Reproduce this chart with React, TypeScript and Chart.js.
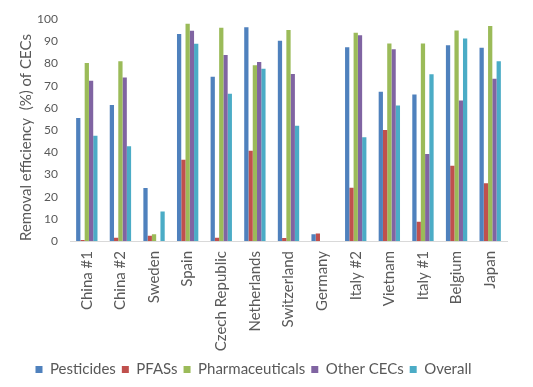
import React, { useEffect, useRef } from "react";
import { Chart, registerables } from "chart.js";

Chart.register(...registerables);

const categories = [
  "China #1", "China #2", "Sweden", "Spain", "Czech Republic", "Netherlands",
  "Switzerland", "Germany", "Italy #2", "Vietnam", "Italy #1", "Belgium", "Japan",
];
const pesticides = [55.5, 61.3, 23.9, 93.3, 74, 96.4, 90.3, 3, 87.3, 67.3, 66, 88.3, 87.1];
const pfass = [0.5, 1.5, 2.4, 36.6, 1.5, 40.7, 1.4, 3.4, 24, 50.1, 8.7, 33.9, 26];
const pharmaceuticals = [80.3, 81, 3, 98, 96.1, 79.2, 95.1, 0, 93.9, 89.1, 89.1, 94.9, 96.9];
const otherCecs = [72.2, 73.7, 0, 94.8, 83.9, 80.7, 75.3, 0, 92.8, 86.4, 39.2, 63.4, 73.2];
const overall = [47.5, 42.7, 13.3, 88.9, 66.4, 77.7, 52, 0, 46.8, 61.1, 75.2, 91.3, 81];
const seriesNames = ["Pesticides", "PFASs", "Pharmaceuticals", "Other CECs", "Overall"];
const yTicks = [0, 10, 20, 30, 40, 50, 60, 70, 80, 90, 100];

const colors = ["#4F81BD", "#C0504D", "#9BBB59", "#8064A2", "#4BACC6"];
const FONT = "Lato";
const TEXT = "#595959";

export default function App() {
  const ref = useRef<HTMLCanvasElement>(null);
  useEffect(() => {
    if (!ref.current) return;
    const values = [pesticides, pfass, pharmaceuticals, otherCecs, overall];
    const chart = new Chart(ref.current, {
      type: "bar",
      data: {
        labels: categories,
        datasets: values.map((v, i) => ({
          label: seriesNames[i],
          data: v,
          backgroundColor: colors[i],
          borderWidth: 0,
          barPercentage: 1,
          categoryPercentage: 0.635,
        })),
      },
      options: {
        animation: false,
        responsive: false,
        maintainAspectRatio: false,
        layout: { padding: { top: 18, right: 26, left: 0, bottom: 0 } },
        plugins: {
          tooltip: { enabled: false },
          legend: {
            position: "bottom",
            labels: {
              boxWidth: 7,
              boxHeight: 7,
              padding: 6,
              color: TEXT,
              font: { family: FONT, size: 15 },
            },
          },
        },
        scales: {
          x: {
            grid: { display: false, drawTicks: false },
            border: { display: true, color: "#D9D9D9", width: 1 },
            ticks: {
              autoSkip: false,
              maxRotation: 90,
              minRotation: 90,
              padding: 10,
              color: TEXT,
              font: { family: FONT, size: 15 },
            },
            afterFit: (s: any) => { s.height = 115; },
          },
          y: {
            min: 0,
            max: 100,
            afterBuildTicks: (s: any) => { s.ticks = yTicks.map((v) => ({ value: v })); },
            grid: { display: false, drawTicks: false },
            border: { display: false },
            ticks: {
              padding: 12,
              color: TEXT,
              font: { family: FONT, size: 12 },
            },
            title: {
              display: true,
              align: "start",
              text: "Removal efficiency  (%) of CECs",
              color: TEXT,
              font: { family: FONT, size: 15 },
              padding: { top: 17, bottom: 0 },
            },
            afterFit: (s: any) => { s.width = 70; },
          },
        },
      },
    });
    return () => chart.destroy();
  }, []);
  return (
    <div style={{ position: "absolute", left: 0, top: 0, width: 533, height: 387, background: "#fff" }}>
      <canvas ref={ref} width={533} height={387} />
    </div>
  );
}
